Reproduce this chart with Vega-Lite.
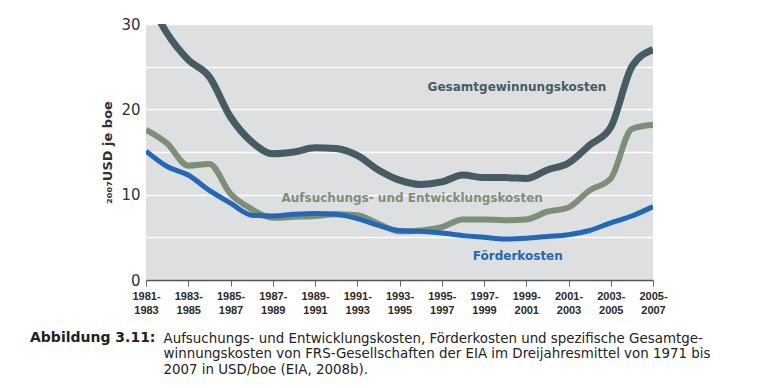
{
  "$schema": "https://vega.github.io/schema/vega-lite/v6.json",
  "width": 507,
  "height": 256,
  "autosize": {"type": "none"},
  "padding": {"left": 146, "top": 24, "right": 110, "bottom": 108},
  "background": "white",
  "config": {
    "view": {"fill": "#dddfe0", "stroke": null},
    "font": "Liberation Sans"
  },
  "title": {
    "text": "Abbildung 3.11:",
    "orient": "bottom",
    "anchor": "start",
    "frame": "group",
    "font": "DejaVu Sans",
    "fontWeight": "bold",
    "fontSize": 14,
    "color": "#222222",
    "dx": -116,
    "dy": -44,
    "offset": 0
  },
  "datasets": {
    "lines": [
      {"year": 1982, "series": "Gesamtgewinnungskosten", "value": 33.5},
      {"year": 1983, "series": "Gesamtgewinnungskosten", "value": 28.9},
      {"year": 1984, "series": "Gesamtgewinnungskosten", "value": 25.8},
      {"year": 1985, "series": "Gesamtgewinnungskosten", "value": 23.8},
      {"year": 1986, "series": "Gesamtgewinnungskosten", "value": 19.1},
      {"year": 1987, "series": "Gesamtgewinnungskosten", "value": 16.2},
      {"year": 1988, "series": "Gesamtgewinnungskosten", "value": 14.8},
      {"year": 1989, "series": "Gesamtgewinnungskosten", "value": 15.0},
      {"year": 1990, "series": "Gesamtgewinnungskosten", "value": 15.5},
      {"year": 1991, "series": "Gesamtgewinnungskosten", "value": 15.4},
      {"year": 1992, "series": "Gesamtgewinnungskosten", "value": 14.6},
      {"year": 1993, "series": "Gesamtgewinnungskosten", "value": 12.9},
      {"year": 1994, "series": "Gesamtgewinnungskosten", "value": 11.7},
      {"year": 1995, "series": "Gesamtgewinnungskosten", "value": 11.2},
      {"year": 1996, "series": "Gesamtgewinnungskosten", "value": 11.5},
      {"year": 1997, "series": "Gesamtgewinnungskosten", "value": 12.3},
      {"year": 1998, "series": "Gesamtgewinnungskosten", "value": 12.0},
      {"year": 1999, "series": "Gesamtgewinnungskosten", "value": 12.0},
      {"year": 2000, "series": "Gesamtgewinnungskosten", "value": 11.9},
      {"year": 2001, "series": "Gesamtgewinnungskosten", "value": 12.9},
      {"year": 2002, "series": "Gesamtgewinnungskosten", "value": 13.7},
      {"year": 2003, "series": "Gesamtgewinnungskosten", "value": 15.8},
      {"year": 2004, "series": "Gesamtgewinnungskosten", "value": 17.9},
      {"year": 2005, "series": "Gesamtgewinnungskosten", "value": 25.0},
      {"year": 2006, "series": "Gesamtgewinnungskosten", "value": 27.0},
      {"year": 1982, "series": "Aufsuchungs- und Entwicklungskosten", "value": 17.6},
      {"year": 1983, "series": "Aufsuchungs- und Entwicklungskosten", "value": 16.0},
      {"year": 1984, "series": "Aufsuchungs- und Entwicklungskosten", "value": 13.4},
      {"year": 1985, "series": "Aufsuchungs- und Entwicklungskosten", "value": 13.6},
      {"year": 1986, "series": "Aufsuchungs- und Entwicklungskosten", "value": 10.1},
      {"year": 1987, "series": "Aufsuchungs- und Entwicklungskosten", "value": 8.3},
      {"year": 1988, "series": "Aufsuchungs- und Entwicklungskosten", "value": 7.3},
      {"year": 1989, "series": "Aufsuchungs- und Entwicklungskosten", "value": 7.4},
      {"year": 1990, "series": "Aufsuchungs- und Entwicklungskosten", "value": 7.5},
      {"year": 1991, "series": "Aufsuchungs- und Entwicklungskosten", "value": 7.7},
      {"year": 1992, "series": "Aufsuchungs- und Entwicklungskosten", "value": 7.6},
      {"year": 1993, "series": "Aufsuchungs- und Entwicklungskosten", "value": 6.6},
      {"year": 1994, "series": "Aufsuchungs- und Entwicklungskosten", "value": 5.7},
      {"year": 1995, "series": "Aufsuchungs- und Entwicklungskosten", "value": 5.8},
      {"year": 1996, "series": "Aufsuchungs- und Entwicklungskosten", "value": 6.2},
      {"year": 1997, "series": "Aufsuchungs- und Entwicklungskosten", "value": 7.1},
      {"year": 1998, "series": "Aufsuchungs- und Entwicklungskosten", "value": 7.1},
      {"year": 1999, "series": "Aufsuchungs- und Entwicklungskosten", "value": 7.0},
      {"year": 2000, "series": "Aufsuchungs- und Entwicklungskosten", "value": 7.1},
      {"year": 2001, "series": "Aufsuchungs- und Entwicklungskosten", "value": 8.0},
      {"year": 2002, "series": "Aufsuchungs- und Entwicklungskosten", "value": 8.5},
      {"year": 2003, "series": "Aufsuchungs- und Entwicklungskosten", "value": 10.5},
      {"year": 2004, "series": "Aufsuchungs- und Entwicklungskosten", "value": 11.9},
      {"year": 2005, "series": "Aufsuchungs- und Entwicklungskosten", "value": 17.7},
      {"year": 2006, "series": "Aufsuchungs- und Entwicklungskosten", "value": 18.2},
      {"year": 1982, "series": "Förderkosten", "value": 15.1},
      {"year": 1983, "series": "Förderkosten", "value": 13.3},
      {"year": 1984, "series": "Förderkosten", "value": 12.3},
      {"year": 1985, "series": "Förderkosten", "value": 10.5},
      {"year": 1986, "series": "Förderkosten", "value": 9.0},
      {"year": 1987, "series": "Förderkosten", "value": 7.6},
      {"year": 1988, "series": "Förderkosten", "value": 7.5},
      {"year": 1989, "series": "Förderkosten", "value": 7.7},
      {"year": 1990, "series": "Förderkosten", "value": 7.8},
      {"year": 1991, "series": "Förderkosten", "value": 7.7},
      {"year": 1992, "series": "Förderkosten", "value": 7.2},
      {"year": 1993, "series": "Förderkosten", "value": 6.4},
      {"year": 1994, "series": "Förderkosten", "value": 5.8},
      {"year": 1995, "series": "Förderkosten", "value": 5.7},
      {"year": 1996, "series": "Förderkosten", "value": 5.5},
      {"year": 1997, "series": "Förderkosten", "value": 5.2},
      {"year": 1998, "series": "Förderkosten", "value": 5.0},
      {"year": 1999, "series": "Förderkosten", "value": 4.8},
      {"year": 2000, "series": "Förderkosten", "value": 4.9},
      {"year": 2001, "series": "Förderkosten", "value": 5.1},
      {"year": 2002, "series": "Förderkosten", "value": 5.3},
      {"year": 2003, "series": "Förderkosten", "value": 5.8},
      {"year": 2004, "series": "Förderkosten", "value": 6.7},
      {"year": 2005, "series": "Förderkosten", "value": 7.5},
      {"year": 2006, "series": "Förderkosten", "value": 8.6}
    ],
    "labels": [
      {"series": "Gesamtgewinnungskosten", "year": 1999.56, "value": 22.6},
      {"series": "Aufsuchungs- und Entwicklungskosten", "year": 1994.6, "value": 9.6},
      {"series": "Förderkosten", "year": 1999.6, "value": 2.8}
    ]
  },
  "encoding": {
    "x": {
      "field": "year",
      "type": "quantitative",
      "scale": {"domain": [1982, 2006], "nice": false, "zero": false},
      "axis": {
        "values": [1982, 1984, 1986, 1988, 1990, 1992, 1994, 1996, 1998, 2000, 2002, 2004, 2006],
        "labelExpr": "[toString(datum.value - 1) + '-', toString(datum.value + 1)]",
        "labelFont": "Liberation Sans",
        "labelFontWeight": "bold",
        "labelFontSize": 11,
        "labelColor": "#2a2a2a",
        "labelLineHeight": 14,
        "labelPadding": 4,
        "labelFlush": false,
        "labelOverlap": false,
        "grid": false,
        "domainColor": "#555555",
        "domainWidth": 1.5,
        "tickColor": "#666666",
        "tickSize": 6,
        "tickWidth": 1,
        "title": [
          "Aufsuchungs- und Entwicklungskosten, Förderkosten und spezifische Gesamtge-",
          "winnungskosten von FRS-Gesellschaften der EIA im Dreijahresmittel von 1971 bis",
          "2007 in USD/boe (EIA, 2008b)."
        ],
        "titleFont": "DejaVu Sans",
        "titleFontWeight": "normal",
        "titleFontSize": 13.4,
        "titleColor": "#222222",
        "titleAlign": "left",
        "titleAnchor": "start",
        "titleBaseline": "top",
        "titleLineHeight": 15.5,
        "titleX": 17,
        "titleY": 51
      }
    },
    "y": {
      "field": "value",
      "type": "quantitative",
      "scale": {"domain": [0, 30], "nice": false},
      "axis": {
        "values": [0, 5, 10, 15, 20, 25, 30],
        "labelExpr": "datum.value % 10 === 0 ? datum.label : ''",
        "labelFont": "DejaVu Sans",
        "labelFontSize": 15,
        "labelColor": "#333333",
        "labelPadding": 6,
        "ticks": false,
        "domain": false,
        "grid": true,
        "gridColor": "#ffffff",
        "gridWidth": 1.5,
        "title": "₂₀₀₇USD je boe",
        "titleFont": "DejaVu Sans",
        "titleFontWeight": "bold",
        "titleFontSize": 13,
        "titleColor": "#333333",
        "titlePadding": 6
      }
    },
    "color": {
      "field": "series",
      "type": "nominal",
      "scale": {
        "domain": ["Gesamtgewinnungskosten", "Aufsuchungs- und Entwicklungskosten", "Förderkosten"],
        "range": ["#465c62", "#7d9077", "#2268b7"]
      },
      "legend": null
    }
  },
  "layer": [
    {
      "data": {"name": "lines"},
      "mark": {"type": "line", "interpolate": "monotone", "strokeCap": "butt", "strokeJoin": "round", "clip": true},
      "encoding": {
        "strokeWidth": {
          "field": "series",
          "type": "nominal",
          "scale": {
            "domain": ["Gesamtgewinnungskosten", "Aufsuchungs- und Entwicklungskosten", "Förderkosten"],
            "range": [7, 5, 3.5]
          },
          "legend": null
        }
      }
    },
    {
      "data": {"name": "labels"},
      "mark": {"type": "text", "font": "DejaVu Sans", "fontWeight": "bold", "fontSize": 12, "align": "center", "baseline": "middle"},
      "encoding": {
        "text": {"field": "series"}
      }
    }
  ]
}
